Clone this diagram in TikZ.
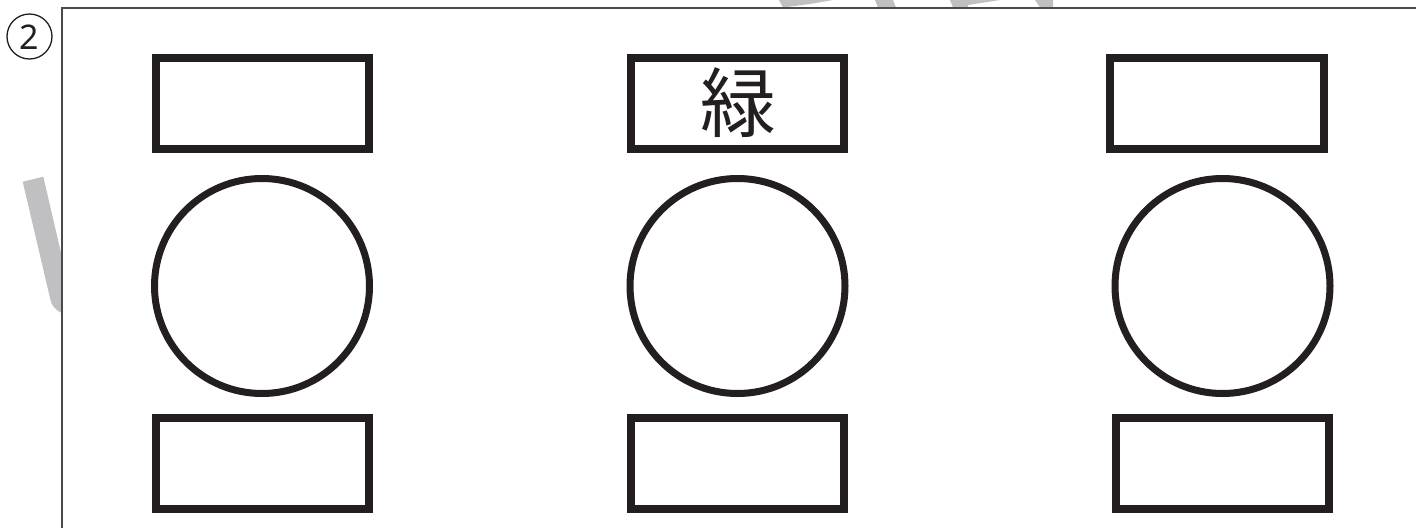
\documentclass[tikz,border=0pt]{standalone}
\usepackage{fontspec}
\newfontfamily\cjk{Noto Sans CJK JP}
\newfontfamily\numfont{Noto Sans}
\definecolor{ink}{HTML}{231F20}
\definecolor{wm}{HTML}{C0C0C2}
\definecolor{frameline}{HTML}{4A4A4A}
\tikzset{
  labelbox/.style={draw=ink, line width=8pt, fill=none},
  lamp/.style={draw=ink, line width=7pt, circle, minimum size=215pt, inner sep=0pt},
  watermark/.style={fill=wm, draw=none},
}
\begin{document}
\begin{tikzpicture}[x=1pt,y=-1pt]
\useasboundingbox (0,0) rectangle (1416,528);
% faint watermark fragments
\fill[watermark] (22.7,181.7) -- (43.3,176.7) -- (62,257) -- (62,313) .. controls (55,310) and (51,305) .. (50,298) -- cycle;
\fill[watermark] (779,0) -- (833,0) -- (810,4) -- (783,7.5) -- cycle;
\fill[watermark] (875,0) -- (893,0) -- (896,7.5) -- (878,7.5) -- cycle;
\fill[watermark] (950,0) -- (1000,0) -- (968,5) -- (968,7.5) -- (953,7.5) -- cycle;
\fill[watermark] (1035,0) -- (1053,0) -- (1053,7.5) -- (1040,7.5) -- cycle;
% frame
\coordinate (fbl) at (62,528);
\coordinate (ftl) at (62,8);
\coordinate (ftr) at (1416,8);
\draw[frameline, line width=1.5pt] (fbl) -- (ftl) -- (ftr);
% circled number
\node[draw=ink, circle, line width=1.3pt, minimum size=45pt, inner sep=0pt] (num) at (29.5,36.5) {};
\node[text=ink, font=\numfont\fontsize{34}{34}\selectfont, inner sep=0pt] (numtxt) at (29.5,37) {2};
% left column
\draw[labelbox] (155.7,58) rectangle (369.3,148.7);
\node[lamp] (c1) at (262,286) {};
\draw[labelbox] (155.7,418) rectangle (369.3,508.5);
% middle column
\draw[labelbox] (630.7,58) rectangle (844.3,148.7);
\node[text=ink, font=\cjk\fontsize{76}{76}\selectfont, inner sep=0pt] (green) at (738,103) {緑};
\node[lamp] (c2) at (737.5,286) {};
\draw[labelbox] (630.7,418) rectangle (844.3,508.5);
% right column
\draw[labelbox] (1110,58) rectangle (1323.7,148.7);
\node[lamp] (c3) at (1222.5,286) {};
\draw[labelbox] (1115.7,418) rectangle (1329.3,508.5);
\end{tikzpicture}
\end{document}
